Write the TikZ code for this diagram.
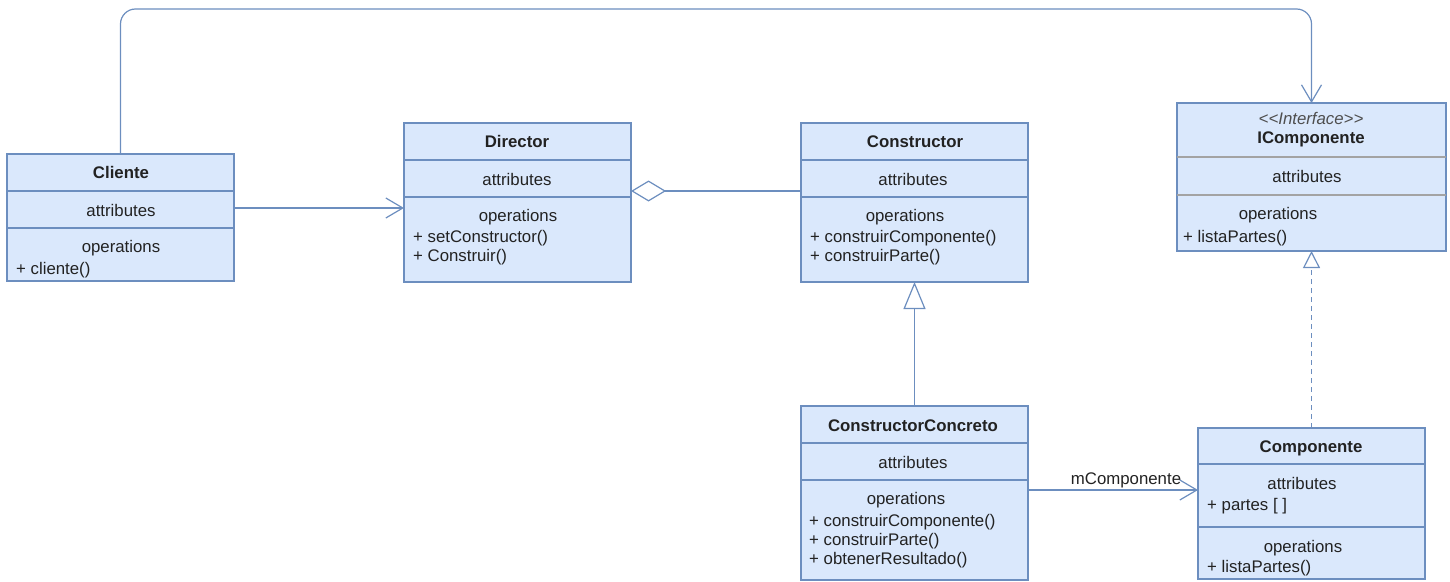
\documentclass[tikz,border=0pt]{standalone}
\usepackage{fontspec}
\setmainfont{Liberation Sans}
\usetikzlibrary{arrows.meta,positioning}
\definecolor{umlfill}{HTML}{DAE8FC}
\definecolor{umlline}{HTML}{6C8EBF}
\definecolor{umltext}{HTML}{222222}
\definecolor{umlsep}{HTML}{A3A3A3}
\newcommand{\umlsize}{\fontsize{16.8}{19}\selectfont}

\begin{document}
\begin{tikzpicture}[x=1pt, y=-1pt,
  part/.style={draw=umlline, fill=umlfill, line width=1.2pt, inner sep=0pt, outer sep=0pt},
  txt/.style={text=umltext, inner sep=0pt, anchor=base, font=\umlsize},
  item/.style={txt, anchor=base west},
  title/.style={txt, font=\umlsize\bfseries},
  link/.style={draw=umlline, line width=1.2pt},
  assoc/.style={link, -{Straight Barb[length=17pt, width=20pt]}},
  aggr/.style={link, {Diamond[open, fill=white, length=35pt, width=21pt]}-},
  inherit/.style={link, -{Triangle[open, fill=white, length=27pt, width=22pt]}},
  realize/.style={link, dash pattern=on 5pt off 4pt, -{Triangle[open, fill=white, length=17pt, width=17pt]}}]
\useasboundingbox (0,0) rectangle (1450,581);

\foreach \n/\x/\y/\w/\a/\b/\c in {cliente/7/154/227/37/37/53,
    director/404/123/227/37/37/85, constructor/801/123/227/37/37/85,
    icomp/1177/103/269/54/38/56, concreto/801/406/227/37/37/100,
    componente/1198/428/227/36/63/52}
  {\node[part, anchor=north west, minimum width=\w, minimum height=\a] (\n-name) at (\x,\y) {};
  \node[part, minimum width=\w, minimum height=\b, below=0pt of \n-name] (\n-attr) {};
  \node[part, minimum width=\w, minimum height=\c, below=0pt of \n-attr] (\n-ops) {};}
\draw[umlsep, line width=1.2pt] (icomp-attr.north west) -- (icomp-attr.north east)
  (icomp-ops.north west) -- (icomp-ops.north east);

\node[title] (cliente-t) at (121,178) {Cliente};
\node[txt] (cliente-a) at (121,216) {attributes};
\node[txt] (cliente-o) at (121,252) {operations};
\node[item] (cliente-o1) at (16,274) {+ cliente()};

\node[title] (director-t) at (517,147) {Director};
\node[txt] (director-a) at (517,185) {attributes};
\node[txt] (director-o) at (518,221) {operations};
\node[item] (director-o1) at (413,242) {+ setConstructor()};
\node[item] (director-o2) at (413,261) {+ Construir()};

\node[title] (constructor-t) at (915,147) {Constructor};
\node[txt] (constructor-a) at (913,185) {attributes};
\node[txt] (constructor-o) at (905,221) {operations};
\node[item] (constructor-o1) at (810,242) {+ construirComponente()};
\node[item] (constructor-o2) at (810,261) {+ construirParte()};

\node[txt, text=umltext!80, font=\umlsize\itshape] (icomp-s) at (1311,124) {{<}{<}Interface{>}{>}};
\node[title] (icomp-t) at (1311,143) {IComponente};
\node[txt] (icomp-a) at (1307,182) {attributes};
\node[txt] (icomp-o) at (1278,219) {operations};
\node[item] (icomp-o1) at (1183,242) {+ listaPartes()};

\node[title] (concreto-t) at (913,431) {ConstructorConcreto};
\node[txt] (concreto-a) at (913,468) {attributes};
\node[txt] (concreto-o) at (906,504) {operations};
\node[item] (concreto-o1) at (809,526) {+ construirComponente()};
\node[item] (concreto-o2) at (809,545) {+ construirParte()};
\node[item] (concreto-o3) at (809,564) {+ obtenerResultado()};

\node[title] (componente-t) at (1311,452) {Componente};
\node[txt] (componente-a) at (1302,489) {attributes};
\node[item] (componente-a1) at (1207,510) {+ partes [ ]};
\node[txt] (componente-o) at (1303,552) {operations};
\node[item] (componente-o1) at (1207,572) {+ listaPartes()};

\coordinate (uses) at (234,208);
\coordinate (holds) at (631,191);
\coordinate (owns) at (1028,490);
\draw[assoc] (uses) -- (uses -| director-ops.west);
\draw[aggr] (holds) -- (holds -| constructor-attr.west);
\draw[inherit] (concreto-name.north) -- (constructor-ops.south);
\draw[realize] (componente-name.north) -- (icomp-ops.south);
\draw[assoc] (owns) -- (owns -| componente-attr.west);
\node[txt] (owns-lbl) at (1126,484) {mComponente};
\draw[assoc, rounded corners=15pt] (cliente-name.north) -- ++(0,-145) -| (icomp-name.north);
\end{tikzpicture}
\end{document}
